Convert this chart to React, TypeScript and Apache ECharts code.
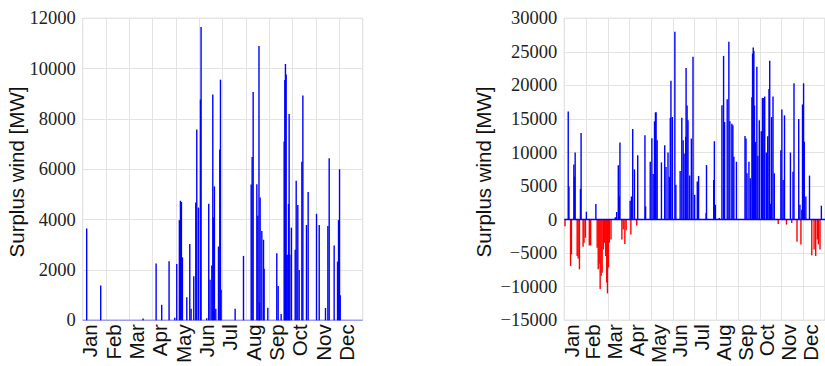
import React, { useEffect, useRef } from "react";
import * as echarts from "echarts";

const months = ["Jan", "Feb", "Mar", "Apr", "May", "Jun", "Jul", "Aug", "Sep", "Oct", "Nov", "Dec"];

// Left panel: surplus wind (day of year, MW)
const leftDays = [
  5.2, 23.5, 78.7, 95.7, 103, 112.6, 120, 122.6, 126, 127.4, 128.7, 130, 135.7, 139.6, 141.3, 144.8,
  147.4, 148.7, 150.9, 153.5, 154.3, 161.7, 164.3, 166, 168.3, 169.6, 170.4, 171.7, 173.5, 177, 178.7,
  179.6, 180.4, 198.7, 209.6, 219.6, 220.9, 222.2, 227, 228.3, 229.8, 230.5, 231.3, 233.5, 235.7, 236.5,
  241.3, 253, 254.8, 258.7, 262.6, 263.5, 264.3, 265.2, 266, 267.4, 268.3, 269.1, 270, 272, 277, 278.3,
  280.4, 282.2, 285.7, 287, 291.7, 293.9, 304.8, 308.3, 316.5, 319.6, 321.3, 327.8, 332.2, 333.5, 334.8,
  335.7,
];
const leftValues = [
  3650, 1385, 70, 2255, 620, 2350, 100, 2240, 3980, 4750, 4700, 2500, 910, 3030, 460, 1750,
  4680, 7580, 4480, 8770, 11650, 80, 4630, 1610, 2180, 8970, 4090, 5320, 460, 2930, 6790,
  9560, 1210, 460, 2560, 5400, 6490, 9070, 5410, 4150, 10900, 700, 4880, 3550, 3200, 2050,
  500, 2660, 1360, 250, 7100, 9550, 10180, 9770, 2600, 2600, 4620, 8200, 2600, 3680, 2800, 5540,
  4580, 2000, 6300, 8930, 3790, 5100, 4230, 3790, 490, 3750, 6440, 2970, 2330, 3980, 6000,
  990,
];

// Right panel: surplus wind (day of year, MW), negative = deficit
const rightDays = [
  1, 5.5, 6.5, 8.8, 10, 13.4, 14.3, 15.2, 18, 19.4, 21.2, 22.6, 23.5, 26.3, 27.6, 29.5, 30.9, 35, 36.9,
  44.2, 46, 47.5, 48.8, 50.2, 51.6, 53, 54.8, 56.2, 58, 59.4, 60.4, 61.8, 63.1, 65.4, 71.4, 73.3, 75.6,
  77, 77.9, 80.6, 82.5, 84.8, 86.6, 92.2, 93.2, 94, 95.8, 98.2, 101.4, 102.8, 112.9, 113.8, 120.3, 122.6,
  124.4, 126.3, 127.6, 128.5, 130, 136, 140.6, 142.4, 145.2, 147, 148.4, 149.3, 151.2, 154.8, 156.2,
  162.2, 164.5, 166.4, 167.7, 170, 170.5, 171.9, 173.2, 175.6, 177.9, 180.2, 182.5, 186.2, 188, 198.6,
  199.1, 209.2, 210.1, 211.5, 217, 220.7, 223, 224.4, 228.1, 230.4, 231.8, 234.6, 236, 237.4, 241, 253,
  254.4, 255.8, 258.5, 260.4, 262.7, 263.6, 264.5, 265.4, 266.3, 267.7, 269.6, 271, 273, 275.8, 277.4,
  279.3, 280.6, 282.9, 284.8, 286.6, 287.6, 289, 290.3, 292.2, 294, 299.5, 303.2, 304.6, 306.4, 308.3,
  311, 316.6, 318.4, 320.2, 321.6, 325.8, 328.2, 329.9, 331.3, 332.6, 333.5, 335, 336, 338.2, 343.3,
  346.5, 349.7, 352, 354.3, 355.7, 358, 359.9,
];
const rightValues = [
  -990, 16100, 4930, -6900, -5200, 8230, 6400, 10000, -5420, -5800, -7400, 4580, 12900, -4040, -3450, -2700, 1180, -3850, -3850,
  2320, -4190, -7400, -6560, -10350, -8380, -7900, -4440, -3450, -5420, -9370, -11000, -7150, -3450, -2960, 345, 1130, 8090,
  3450, 11490, -2960, -1480, -3650, -1580, 2810, -2220, 3450, 13510, 7490, -890, 9610, 12570, 1970, 8630, 12130,
  6800, 14640, 15970, 16000, 11830, 8530, 11090, 7840, 10000, 6400, 15130, 20700, 15280, 28000, 5180,
  7250, 15180, 11830, 9860, 12330, 22580, 17010, 14790, 6560, 12080, 24260, 3700, 5670, 6510, 990,
  8130, 5920, 11680, 2220, 250, 17060, 24400, 14540, 17950, 26520, 14640, 14300, 14050, 9370, 8630, 12470,
  12080, 6900, 8630, 6160, 18240, 24750, 25640, 25140, 17010, 11590, 22780, 9520, 14790, 13160, 18140,
  18140, 18340, 10000, 12420, 19470, 23660, 2370, 15280, 18340, 6900, -640, 10350, 16420, 5920, 15530,
  -740, 10000, -490, 7150, 20310, -3300, 15000, 2220, -3700, 1480, 17160, 20310, 11590, 3450, 6560,
  -5320, -4440, -5420, -2960, -3700, -4440, 2070,
];

const leftTicks = [0, 2000, 4000, 6000, 8000, 10000, 12000];
const rightTicks = [-15000, -10000, -5000, 0, 5000, 10000, 15000, 20000, 25000, 30000];

const HOURS = 8760;
const MONTH_H = 730;

const serif = "'Liberation Serif', 'DejaVu Serif', serif";
const sans = "'Liberation Sans', Arial, sans-serif";

export default function App() {
  const ref = useRef<HTMLDivElement>(null);
  useEffect(() => {
    document.body.style.margin = "0";
    if (!ref.current) return;
    const chart = echarts.init(ref.current, null, { renderer: "svg" });

    const grids = [
      { left: 82.7, top: 18.3, width: 280, height: 303.4 },
      { left: 564.3, top: 18.3, width: 264, height: 304 },
    ];

    const labelOffsets = grids.map((g) => (7 * HOURS) / g.width);

    const xAxis = grids.map((g, i) => ({
      type: "value",
      gridIndex: i,
      min: 0,
      max: HOURS,
      interval: MONTH_H,
      axisLine: { show: false },
      axisTick: { show: false },
      splitLine: { show: true, lineStyle: { color: "#e3e3e3", width: 1 } },
      axisLabel: {
        show: true,
        rotate: 90,
        margin: 4,
        interval: 0,
        customValues: months.map((_, k) => k * MONTH_H + labelOffsets[i]),
        formatter: (v: number) => months[Math.round((v - labelOffsets[i]) / MONTH_H)] ?? "",
        fontFamily: sans,
        fontSize: 20.5,
        color: "#111",
      },
    }));

    const ticksArr = [leftTicks, rightTicks];
    const yAxis = ticksArr.map((t, i) => ({
      type: "value",
      gridIndex: i,
      min: t[0],
      max: t[t.length - 1],
      interval: t[1] - t[0],
      axisLine: { show: false },
      axisTick: { show: false },
      splitLine: { show: true, lineStyle: { color: "#e3e3e3", width: 1 } },
      axisLabel: {
        margin: 7,
        fontFamily: serif,
        fontSize: 18.5,
        color: "#222",
        formatter: (v: number) => (v < 0 ? "\u2212" + Math.abs(v) : String(v)),
      },
    }));

    const leftData = leftDays.map((d, k) => [d * 24, leftValues[k]]);
    const rightData = rightDays.map((d, k) => [d * 24, rightValues[k]]);

    const title = (x: number) => ({
      type: "text",
      x,
      y: 172,
      rotation: Math.PI / 2,
      style: {
        text: "Surplus wind [MW]",
        fontFamily: sans,
        fontSize: 20.5,
        fill: "#111",
        align: "center",
        verticalAlign: "middle",
      },
    });

    chart.setOption({
      animation: false,
      grid: grids.map((g) => ({
        ...g,
        show: true,
        borderColor: "#cccccc",
        borderWidth: 1,
        backgroundColor: "transparent",
        containLabel: false,
      })),
      xAxis,
      yAxis,
      graphic: [title(16.7), title(483.3)],
      series: [
        {
          type: "line",
          xAxisIndex: 0,
          yAxisIndex: 0,
          data: [
            [0, 0],
            [HOURS, 0],
          ],
          symbol: "none",
          lineStyle: { color: "#0000ff", width: 1.5, opacity: 0.3 },
          silent: true,
          z: 1,
        },
        {
          type: "bar",
          xAxisIndex: 0,
          yAxisIndex: 0,
          data: leftData,
          barWidth: 1.4,
          itemStyle: { color: "#0000ff" },
          z: 2,
        },
        {
          type: "line",
          xAxisIndex: 1,
          yAxisIndex: 1,
          data: [
            [0, 0],
            [HOURS, 0],
          ],
          symbol: "none",
          lineStyle: { color: "#0000ff", width: 1.5 },
          silent: true,
          z: 3,
        },
        {
          type: "bar",
          xAxisIndex: 1,
          yAxisIndex: 1,
          data: rightData,
          barWidth: 1.4,
          itemStyle: {
            color: (p: any) => (p.value[1] < 0 ? "#ff0000" : "#0000ff"),
          },
          z: 2,
        },
      ],
    });
    return () => chart.dispose();
  }, []);
  return <div ref={ref} style={{ width: 825, height: 366 }} />;
}
